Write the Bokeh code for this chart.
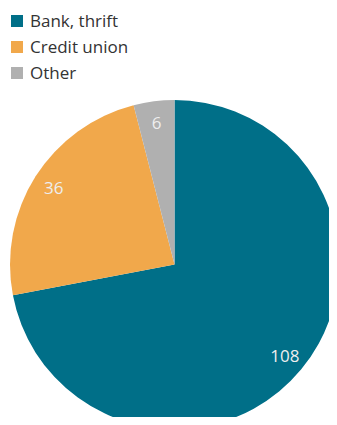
import math
from bokeh.plotting import figure
from bokeh.models import ColumnDataSource, Legend, LegendItem, Range1d
from bokeh.core.properties import value
from bokeh.embed import file_html
from bokeh.resources import INLINE

categories = ["Bank, thrift", "Credit union", "Other"]
counts = [108, 36, 6]
colors = ["#006f88", "#f1a84b", "#b0b0b0"]

W, H = 329, 417
cx, cy, r = 174, 153, 164.5

total = sum(counts)
starts, ends, lx, ly, labels = [], [], [], [], []
acc = 0
for c in counts:
    a0 = math.pi / 2 - 2 * math.pi * acc / total
    a1 = math.pi / 2 - 2 * math.pi * (acc + c) / total
    starts.append(a0)
    ends.append(a1)
    mid = (a0 + a1) / 2
    lx.append(cx + 0.87 * r * math.cos(mid))
    ly.append(cy + 0.87 * r * math.sin(mid))
    labels.append(str(c))
    acc += c

src = ColumnDataSource(dict(cat=categories, start=starts, end=ends, color=colors,
                            lx=lx, ly=ly, label=labels))

p = figure(width=W, height=H, output_backend="svg", toolbar_location=None,
           x_range=Range1d(0, W), y_range=Range1d(0, H), min_border=0,
           outline_line_color=None)
p.axis.visible = False
p.grid.visible = False
p.background_fill_color = "white"

rend = p.wedge(x=cx, y=cy, radius=r, start_angle="start", end_angle="end",
               direction="clock", fill_color="color", line_color=None, source=src)

p.text(x="lx", y="ly", text="label", source=src, text_color="#eeeeee",
       text_font=value("Open Sans"), text_font_size="17px",
       text_align="center", text_baseline="middle")

items = [LegendItem(label=categories[i], renderers=[rend], index=i) for i in range(len(categories))]
legend = Legend(items=items, location="top_left", margin=8, padding=1,
                spacing=3, glyph_width=15, glyph_height=15, label_standoff=6,
                label_text_font="Open Sans", label_text_font_size="17px",
                label_text_color="#333333", label_height=20,
                border_line_alpha=0, background_fill_alpha=0)
p.add_layout(legend)

open("out.html", "w").write(file_html(p, INLINE))
